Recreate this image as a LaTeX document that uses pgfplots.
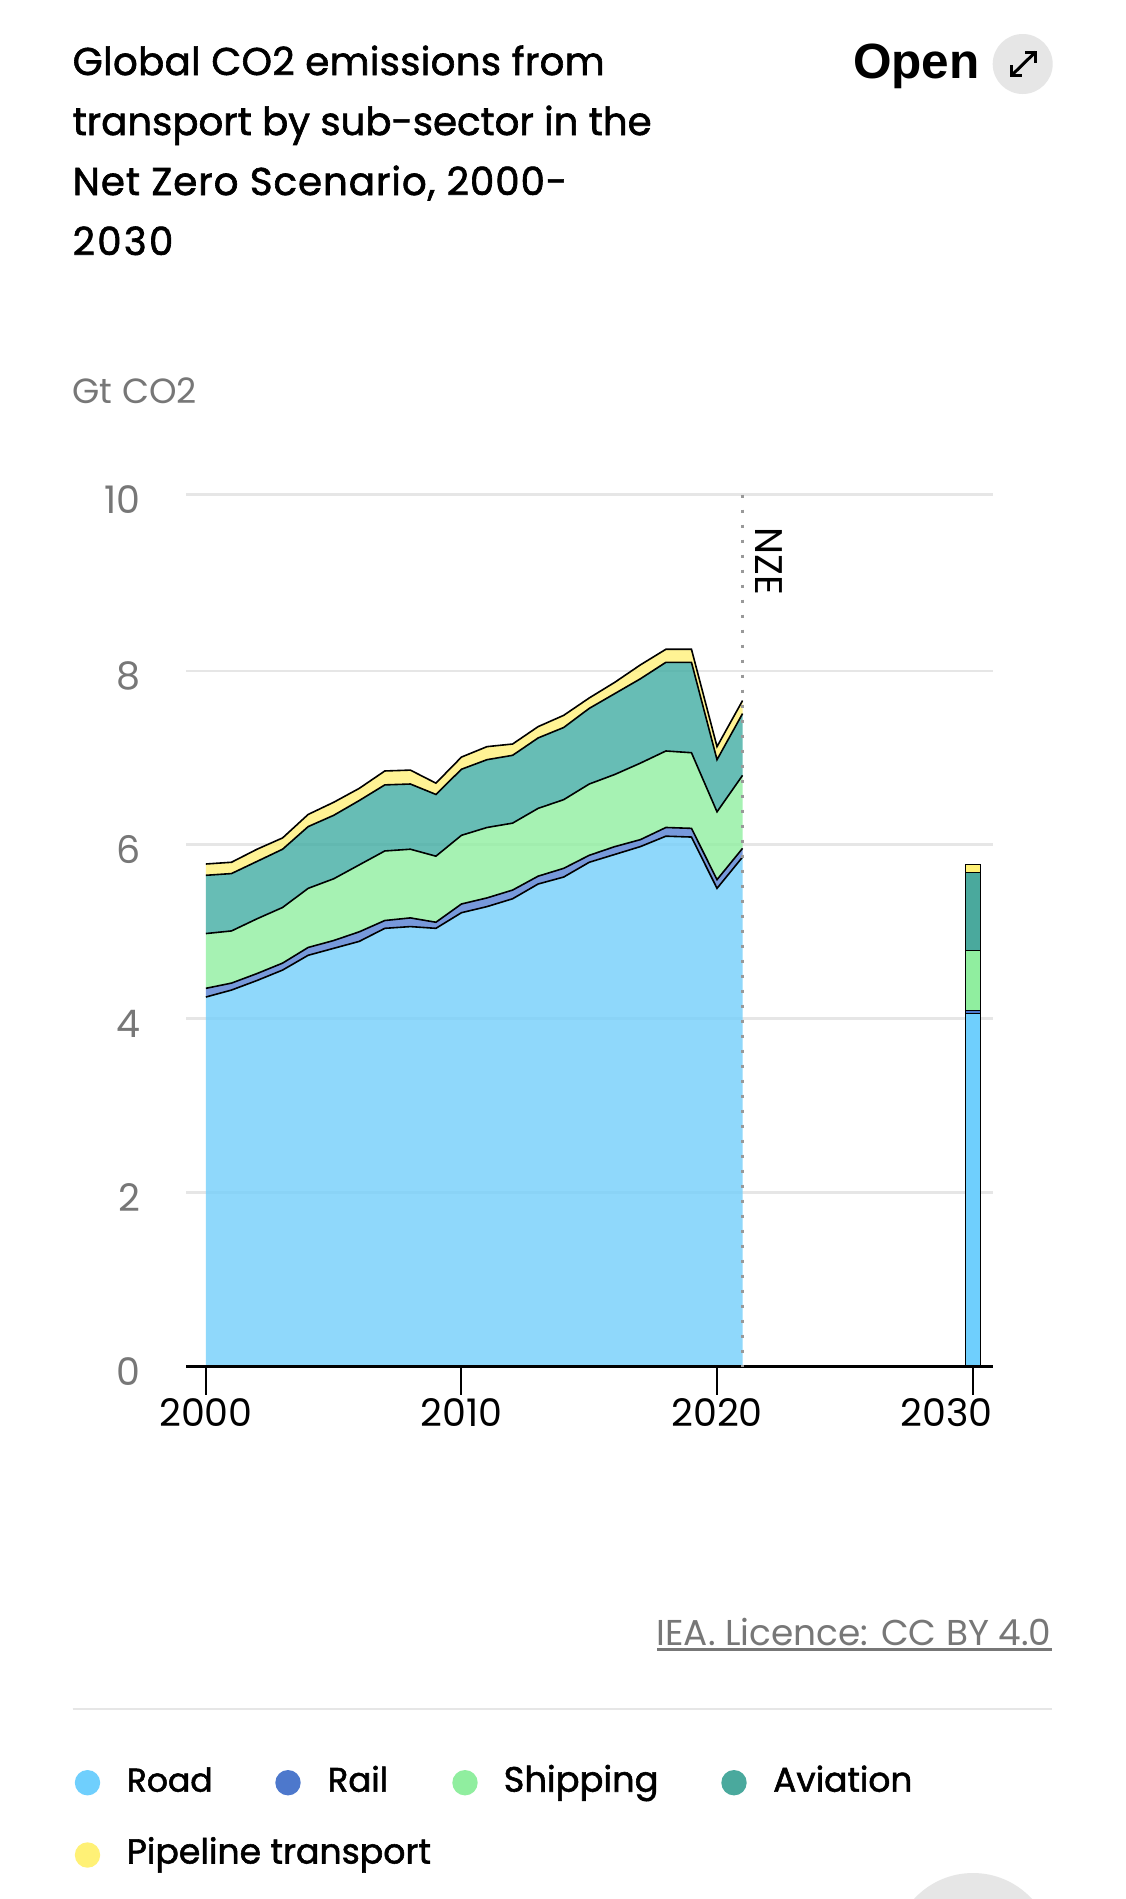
\documentclass[border=0pt]{standalone}
\usepackage{pgfplots}
\usepackage{pgfplotstable}
\usepackage{fontspec}
\pgfplotsset{compat=1.18}
\setmainfont{Poppins}
\newfontfamily\titlefont{Poppins}[FakeBold=1.6]
\newfontfamily\openfont{Liberation Sans Bold}
\definecolor{roadc}{HTML}{6FCFFD}
\definecolor{railc}{HTML}{4D78CC}
\definecolor{shipc}{HTML}{90EE9F}
\definecolor{avic}{HTML}{4AA99D}
\definecolor{pipec}{HTML}{FFF176}
\definecolor{roada}{HTML}{73CFFB}
\definecolor{raila}{HTML}{5580D2}
\definecolor{shipa}{HTML}{90EFA0}
\definecolor{avia}{HTML}{42ADA3}
\definecolor{pipea}{HTML}{FFF07A}
\definecolor{gridc}{HTML}{E6E6E6}
\definecolor{greyt}{HTML}{777777}
\pgfplotstableread{
year road rail shipping aviation pipeline
2000 4.25 .10 .63 .67 .13
2001 4.33 .08 .60 .66 .13
2002 4.44 .08 .63 .66 .14
2003 4.56 .08 .64 .67 .13
2004 4.73 .09 .68 .71 .14
2005 4.81 .09 .71 .73 .15
2006 4.89 .11 .77 .74 .14
2007 5.04 .09 .80 .76 .16
2008 5.06 .10 .79 .75 .16
2009 5.04 .07 .76 .71 .13
2010 5.22 .10 .79 .76 .14
2011 5.29 .10 .81 .78 .15
2012 5.38 .10 .77 .78 .13
2013 5.55 .09 .78 .81 .13
2014 5.63 .10 .79 .83 .14
2015 5.80 .08 .82 .87 .12
2016 5.89 .09 .83 .93 .13
2017 5.98 .08 .88 .97 .16
2018 6.10 .10 .88 1.02 .15
2019 6.09 .10 .87 1.04 .15
2020 5.50 .10 .78 .60 .15
2021 5.86 .10 .84 .71 .15
}\hist
\pgfplotstableread{
year road rail shipping aviation pipeline
2030 4.06 .04 .69 .89 .10
}\nze
\pgfplotsset{
  base/.style={
    at={(186pt,-1366.5pt)}, anchor=south west,
    scale only axis, width=807pt, height=872pt,
    xmin=1999.22, xmax=2030.8, ymin=0, ymax=10.03,
  },
  overlayaxis/.style={base, hide axis, clip=false},
}
\begin{document}
\begin{tikzpicture}
\useasboundingbox (0pt,-1899pt) rectangle (1125pt,0pt);
\clip (0pt,-1899pt) rectangle (1125pt,0pt);
\fill[white] (0pt,-1899pt) rectangle (1125pt,0pt);
% stacked areas, with the grid and the ticks
\begin{axis}[base, stack plots=y,
  axis x line*=bottom, axis y line*=left,
  y axis line style={draw=none},
  x axis line style={-, line width=3pt, black},
  tick align=outside,
  xtick={2000,2010,2020,2030},
  xticklabels={2000,2010,2020,{\makebox[0pt][r]{2030\kern-19.7pt}}},
  ytick={0,2,4,6,8,10.03},
  yticklabels={0,2,4,6,8,10},
  ymajorgrids, grid style={gridc, line width=2.8pt},
  major tick length=28pt,
  xtick style={black, line width=2pt},
  ytick style={draw=none},
  ticklabel style={font=\fontsize{38pt}{38pt}\selectfont},
  xticklabel style={black, inner sep=0pt, yshift=-4pt},
  yticklabel style={greyt, anchor=east, inner sep=0pt, xshift=-17pt, yshift=-5pt},
]
\addplot[draw=none, fill=roada, fill opacity=.8] table[x=year,y=road]{\hist} \closedcycle;
\addplot[draw=none, fill=raila, fill opacity=.8] table[x=year,y=rail]{\hist} \closedcycle;
\addplot[draw=none, fill=shipa, fill opacity=.8] table[x=year,y=shipping]{\hist} \closedcycle;
\addplot[draw=none, fill=avia, fill opacity=.8] table[x=year,y=aviation]{\hist} \closedcycle;
\addplot[draw=none, fill=pipea, fill opacity=.8] table[x=year,y=pipeline]{\hist} \closedcycle;
\end{axis}
% outlines
\begin{axis}[overlayaxis, stack plots=y]
\addplot[black, line width=1.6pt] table[x=year,y=road]{\hist};
\addplot[black, line width=1.6pt] table[x=year,y=rail]{\hist};
\addplot[black, line width=1.6pt] table[x=year,y=shipping]{\hist};
\addplot[black, line width=1.6pt] table[x=year,y=aviation]{\hist};
\addplot[black, line width=1.6pt] table[x=year,y=pipeline]{\hist};
\end{axis}
% scenario bar
\begin{axis}[overlayaxis, ybar stacked, bar width=15pt]
\addplot[fill=roadc, draw=black, line width=1pt] table[x=year,y=road]{\nze};
\addplot[fill=railc, draw=black, line width=1pt] table[x=year,y=rail]{\nze};
\addplot[fill=shipc, draw=black, line width=1pt] table[x=year,y=shipping]{\nze};
\addplot[fill=avic, draw=black, line width=1pt] table[x=year,y=aviation]{\nze};
\addplot[fill=pipec, draw=black, line width=1pt] table[x=year,y=pipeline]{\nze};
\end{axis}
% scenario marker and the axis line above the areas
\begin{axis}[base, clip=false, hide y axis, axis x line*=bottom, xtick=\empty,
  x axis line style={-, line width=3pt, black}]
\addplot[color=black!40, line width=3pt, dash pattern=on 3pt off 12pt] coordinates {(2021,10.03)(2021,0)};
\end{axis}
\begin{scope}[x=1pt,y=-1pt]
\node[rotate=-90, inner sep=0pt, black] at (769,561) {\fontsize{38.5pt}{38.5pt}\selectfont NZE};
% title
\node[anchor=base west, inner sep=0pt] at (72.5,75) {\titlefont\addfontfeature{LetterSpace=0.9}\fontsize{38.7pt}{38.7pt}\selectfont Global CO2 emissions from};
\node[anchor=base west, inner sep=0pt] at (72.5,135) {\titlefont\fontsize{38.7pt}{38.7pt}\selectfont transport by sub-sector in the};
\node[anchor=base west, inner sep=0pt] at (72.5,195) {\titlefont\addfontfeature{LetterSpace=2.6}\fontsize{38.7pt}{38.7pt}\selectfont Net Zero Scenario, 2000-};
\node[anchor=base west, inner sep=0pt] at (72.5,255) {\titlefont\addfontfeature{LetterSpace=6}\fontsize{38.7pt}{38.7pt}\selectfont 2030};
% open button
\node[anchor=base west, inner sep=0pt] at (853,78) {\openfont\fontsize{49.5pt}{49.5pt}\selectfont Open};
\fill[gridc] (1022.7,64) circle[radius=30];
\draw[black, line width=3pt] (1011.5,75.5) -- (1035.5,52);
\draw[black, line width=3pt] (1011.5,65) -- (1011.5,75.5) -- (1022,75.5);
\draw[black, line width=3pt] (1025,52) -- (1035.5,52) -- (1035.5,62.5);
% unit
\node[anchor=base west, inner sep=0pt, greyt] at (72.5,403) {\fontsize{35pt}{35pt}\selectfont Gt CO2};
% source
\node[anchor=base east, inner sep=0pt, greyt] at (1051.5,1645.5) {\fontsize{35.9pt}{35.9pt}\selectfont IEA. Licence: CC BY 4.0};
\draw[greyt, line width=2.5pt] (657,1649.5) -- (1051.5,1649.5);
\draw[gridc, line width=2.8pt] (72.7,1709) -- (1052,1709);
% legend
\fill[roadc] (87.5,1782.7) circle[radius=12.7];
\node[anchor=base west, inner sep=0pt] at (126.6,1791.7) {\titlefont\fontsize{33pt}{33pt}\selectfont Road};
\fill[railc] (288,1782.7) circle[radius=12.7];
\node[anchor=base west, inner sep=0pt] at (327.5,1791.7) {\titlefont\fontsize{34pt}{34pt}\selectfont Rail};
\fill[shipc] (465,1782.7) circle[radius=12.7];
\node[anchor=base west, inner sep=0pt] at (503.5,1791.7) {\titlefont\fontsize{35.3pt}{35.3pt}\selectfont Shipping};
\fill[avic] (734,1782.7) circle[radius=12.7];
\node[anchor=base west, inner sep=0pt] at (773,1791.7) {\titlefont\fontsize{34.4pt}{34.4pt}\selectfont Aviation};
\fill[pipec] (87.5,1855) circle[radius=12.7];
\node[anchor=base west, inner sep=0pt] at (126.6,1863.5) {\titlefont\fontsize{34.7pt}{34.7pt}\selectfont Pipeline transport};
\fill[gridc] (973,1953) circle[radius=80];
\end{scope}
\end{tikzpicture}
\end{document}
